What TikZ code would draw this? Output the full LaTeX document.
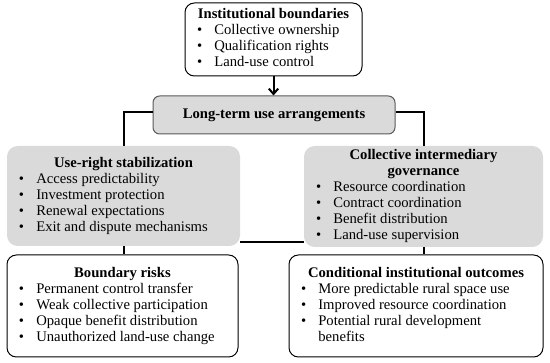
\documentclass[tikz,border=0pt]{standalone}
\usepackage{fontspec}
\setmainfont{Liberation Serif}
\usepackage{array}
\usetikzlibrary{arrows.meta,positioning,calc}

\definecolor{boxgray}{HTML}{DADADA}

% one bullet row and one heading row of a box list
\newcommand{\bitem}[1]{\hspace{9pt}\textbullet & #1\\}
\newcommand{\bhead}[1]{\multicolumn{2}{@{}c@{}}{\textbf{#1}}\\}
\newcommand{\blist}[2]{\begin{tabular}{@{}p{22pt}@{}p{\dimexpr#1-22pt\relax}@{}}#2\end{tabular}}

\begin{document}
\begin{tikzpicture}[
  x=0.75pt, y=-0.75pt, font=\fontsize{11}{12}\selectfont,
  >={Straight Barb[length=4pt,width=7pt]},
  whitebox/.style={draw, line width=0.75pt, rounded corners=7pt, fill=white, inner sep=0pt},
  graybox/.style={fill=boxgray, rounded corners=8pt, inner sep=0pt},
  keybox/.style={draw=black!65, line width=0.75pt, fill=boxgray, rounded corners=5pt, inner sep=0pt},
  link/.style={line width=1.5pt}
]
\useasboundingbox (0,0) rectangle (550,363);

\node[whitebox, minimum width=132.75pt, minimum height=54.75pt] (inst) at (273.5,39.5)
  {\blist{132.75pt}{\bhead{Institutional boundaries}
   \bitem{Collective ownership}\bitem{Qualification rights}\bitem{Land-use control}}};
\node[keybox, minimum width=181.5pt, minimum height=28.5pt] (ltu) at (274,115)
  {\textbf{Long-term use arrangements}};
\node[graybox, minimum width=174.75pt, minimum height=75pt] (urs) at (123.5,196)
  {\blist{174.75pt}{\bhead{Use-right stabilization}
   \bitem{Access predictability}\bitem{Investment protection}
   \bitem{Renewal expectations}\bitem{Exit and dispute mechanisms}}};
\node[graybox, minimum width=179.25pt, minimum height=75.75pt] (cig) at (423.5,196.5)
  {\blist{179.25pt}{\bhead{Collective intermediary}\bhead{governance}
   \bitem{Resource coordination}\bitem{Contract coordination}
   \bitem{Benefit distribution}\bitem{Land-use supervision}}};
\node[whitebox, minimum width=173.25pt, minimum height=76.5pt] (risk) at (122.5,306)
  {\blist{173.25pt}{\bhead{Boundary risks}
   \bitem{Permanent control transfer}\bitem{Weak collective participation}
   \bitem{Opaque benefit distribution}\bitem{Unauthorized land-use change}}};
\node[whitebox, minimum width=190.5pt, minimum height=76.5pt] (outc) at (416,306)
  {\blist{190.5pt}{\bhead{Conditional institutional outcomes}
   \bitem{More predictable rural space use}\bitem{Improved resource coordination}
   \bitem{Potential rural development}& benefits\\}};

\draw[link,->] (inst.south) -- (inst.south |- ltu.north);
\draw[link] ([yshift=2pt]ltu.west) -| (urs.north);
\draw[link] ([yshift=2pt]ltu.east) -| (cig.north);
\draw[link] ([yshift=3pt]urs.south east) -- ([yshift=3pt]urs.south east -| cig.west);
\draw[link] (urs.south) -- (urs.south |- risk.north);
\draw[link] (cig.south) -- (cig.south |- outc.north);
\end{tikzpicture}
\end{document}
